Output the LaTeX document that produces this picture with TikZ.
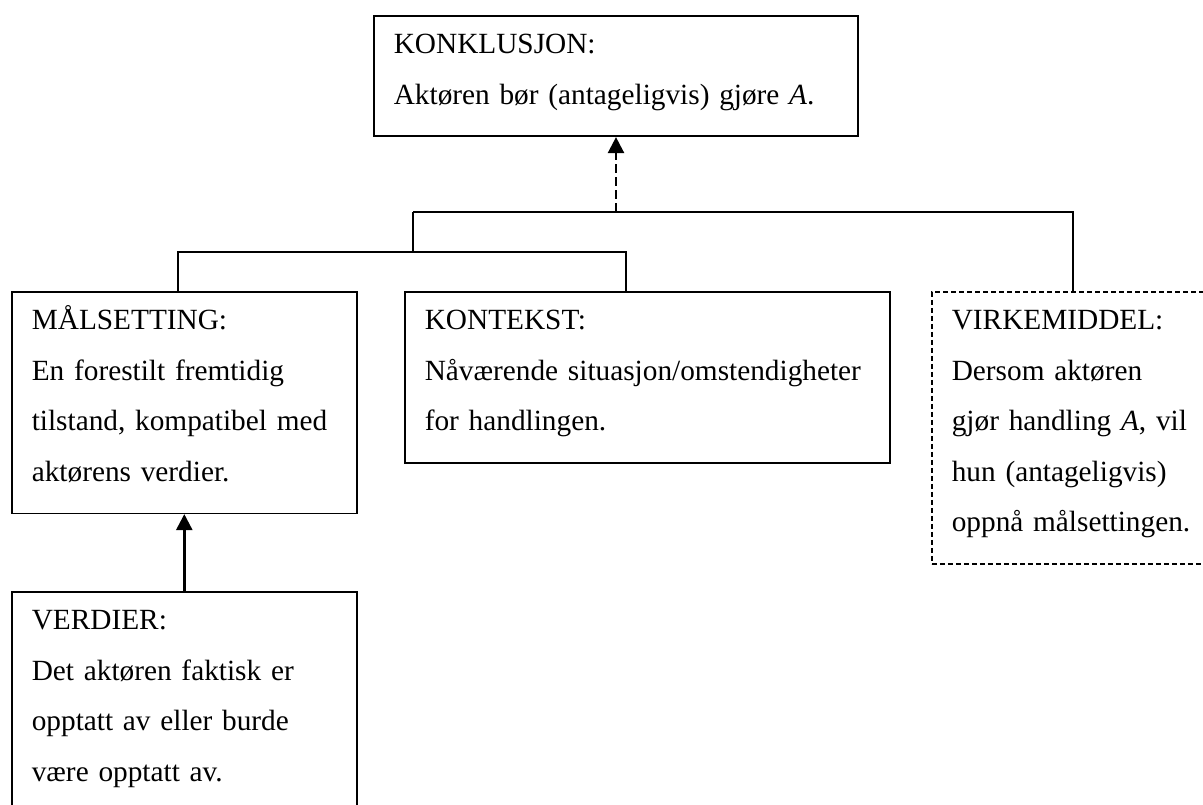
\documentclass[tikz,border=0pt]{standalone}
\usepackage{fontspec}
\setmainfont{Liberation Serif}
\usetikzlibrary{arrows.meta}
\newcommand{\tekst}{\fontsize{29.3}{50.5}\selectfont}
\tikzset{
  boks/.style={draw,line width=1.6pt,anchor=north west,inner xsep=20pt,inner ysep=0pt,
    align=left,font=\tekst,
    execute at begin node={\rule{0pt}{38pt}},
    execute at end node={\rule[-32pt]{0pt}{32pt}}},
  strek/.style={line width=1.5pt},
  nyil/.style={line width=2.4pt,-{Triangle[length=16pt,width=16pt]}},
}
\begin{document}
\begin{tikzpicture}[x=1pt,y=-1pt]
  \clip (0,0) rectangle (1203,805);
  \node[boks,text width=444pt] (konkl) at (373,15)
    {KONKLUSJON:\\ Aktøren bør (antageligvis) gjøre \textit{A}.};
  \node[boks,text width=305pt] (mal) at (11,291)
    {MÅLSETTING:\\ En forestilt fremtidig\\ tilstand, kompatibel med\\ aktørens verdier.};
  \node[boks,text width=445pt] (kontekst) at (404,291)
    {KONTEKST:\\ Nåværende~situasjon/omstendigheter\\ for handlingen.};
  \node[boks,dash pattern=on 5pt off 3pt,text width=244pt] (virke) at (931,291)
    {VIRKEMIDDEL:\\ Dersom aktøren\\ gjør handling \textit{A}, vil\\ hun (antageligvis)\\ oppnå målsettingen.};
  \node[boks,text width=305pt] (verdier) at (11,591)
    {VERDIER:\\ Det aktøren faktisk er\\ opptatt av eller burde\\ være opptatt av.};
  % forgreining
  \coordinate (topp) at (616,212);
  \coordinate (venstre) at (413,212);
  \coordinate (hoyre) at (1073,212);
  \coordinate (midt) at (413,252);
  \coordinate (mv) at (178,252);
  \coordinate (mh) at (626,252);
  \draw[strek] (venstre) -- (hoyre) -- (hoyre |- virke.north);
  \draw[strek] (venstre) -- (midt);
  \draw[strek] (mv |- mal.north) -- (mv) -- (mh) -- (mh |- kontekst.north);
  \draw[nyil,dash pattern=on 9pt off 4pt] (topp) -- (topp |- konkl.south);
  \draw[nyil] (verdier.north) -- (mal.south);
\end{tikzpicture}
\end{document}
